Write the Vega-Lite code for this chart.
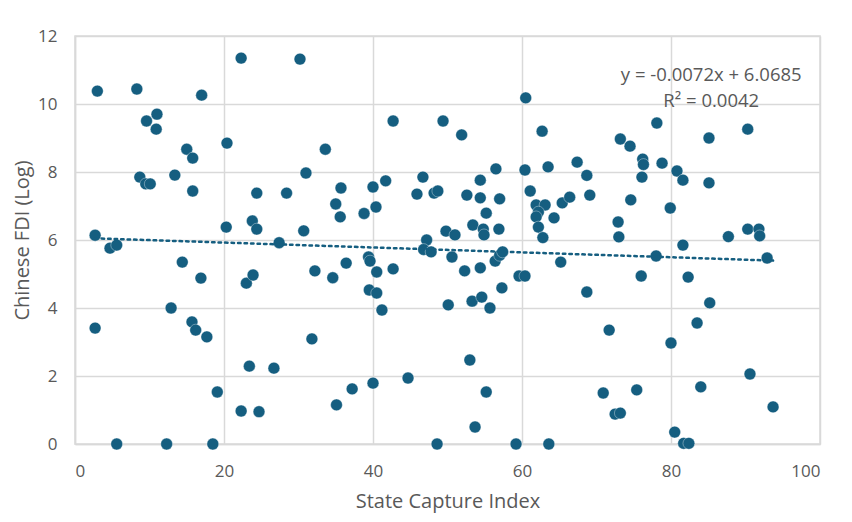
{
  "$schema": "https://vega.github.io/schema/vega-lite/v6.json",
  "autosize": "none",
  "width": 745,
  "height": 408,
  "padding": {"left": 75, "top": 36, "right": 32, "bottom": 78},
  "background": "white",
  "config": {
    "font": "Open Sans",
    "view": {"stroke": "#D9D9D9", "strokeWidth": 1.5},
    "axis": {
      "gridColor": "#D9D9D9", "gridWidth": 1.5, "domainColor": "#D9D9D9", "domainWidth": 1.5,
      "ticks": false, "labelColor": "#595959", "titleColor": "#595959",
      "labelFontSize": 17, "titleFontSize": 20, "titleFontWeight": "normal", "labelFont": "Open Sans", "titleFont": "Open Sans"
    }
  },
  "datasets": {
    "pts": [
      {"x": 3.0, "y": 10.38}, {"x": 8.3, "y": 10.44}, {"x": 9.6, "y": 9.5}, {"x": 11.0, "y": 9.7}, {"x": 10.9, "y": 9.26},
      {"x": 17.0, "y": 10.26}, {"x": 22.3, "y": 11.35}, {"x": 30.2, "y": 11.32}, {"x": 20.4, "y": 8.85}, {"x": 15.0, "y": 8.67},
      {"x": 15.8, "y": 8.41}, {"x": 33.6, "y": 8.67}, {"x": 8.7, "y": 7.85}, {"x": 9.5, "y": 7.65}, {"x": 10.1, "y": 7.65},
      {"x": 13.4, "y": 7.91}, {"x": 15.8, "y": 7.44}, {"x": 31.0, "y": 7.97}, {"x": 24.4, "y": 7.38}, {"x": 28.4, "y": 7.38},
      {"x": 35.7, "y": 7.53}, {"x": 35.0, "y": 7.06}, {"x": 35.6, "y": 6.68}, {"x": 20.3, "y": 6.38}, {"x": 23.8, "y": 6.56},
      {"x": 24.4, "y": 6.32}, {"x": 30.7, "y": 6.27}, {"x": 27.4, "y": 5.92}, {"x": 2.7, "y": 6.14}, {"x": 4.7, "y": 5.76},
      {"x": 5.6, "y": 5.85}, {"x": 14.4, "y": 5.35}, {"x": 16.9, "y": 4.88}, {"x": 23.0, "y": 4.73}, {"x": 23.9, "y": 4.97},
      {"x": 32.2, "y": 5.09}, {"x": 34.6, "y": 4.89}, {"x": 12.9, "y": 4.0}, {"x": 2.7, "y": 3.41}, {"x": 15.7, "y": 3.59},
      {"x": 16.2, "y": 3.35}, {"x": 17.7, "y": 3.15}, {"x": 31.8, "y": 3.09}, {"x": 23.4, "y": 2.29}, {"x": 26.7, "y": 2.23},
      {"x": 19.1, "y": 1.53}, {"x": 22.3, "y": 0.97}, {"x": 24.7, "y": 0.95}, {"x": 35.1, "y": 1.15}, {"x": 5.6, "y": 0},
      {"x": 12.3, "y": 0}, {"x": 18.5, "y": 0}, {"x": 42.7, "y": 9.5}, {"x": 49.4, "y": 9.5}, {"x": 51.9, "y": 9.09},
      {"x": 60.5, "y": 10.18}, {"x": 62.7, "y": 9.2}, {"x": 38.8, "y": 6.78}, {"x": 40.0, "y": 7.56}, {"x": 40.4, "y": 6.97},
      {"x": 41.7, "y": 7.74}, {"x": 45.9, "y": 7.35}, {"x": 46.7, "y": 7.85}, {"x": 48.2, "y": 7.38}, {"x": 48.7, "y": 7.44},
      {"x": 52.6, "y": 7.32}, {"x": 54.4, "y": 7.76}, {"x": 54.4, "y": 7.24}, {"x": 56.5, "y": 8.09}, {"x": 57.0, "y": 7.21},
      {"x": 55.2, "y": 6.79}, {"x": 53.4, "y": 6.44}, {"x": 54.8, "y": 6.32}, {"x": 54.9, "y": 6.15}, {"x": 56.9, "y": 6.32},
      {"x": 49.8, "y": 6.26}, {"x": 51.0, "y": 6.15}, {"x": 47.2, "y": 6.0}, {"x": 46.8, "y": 5.72}, {"x": 47.8, "y": 5.65},
      {"x": 60.4, "y": 8.06}, {"x": 63.5, "y": 8.15}, {"x": 67.4, "y": 8.29}, {"x": 68.7, "y": 7.9}, {"x": 69.1, "y": 7.32},
      {"x": 61.1, "y": 7.44}, {"x": 61.9, "y": 7.03}, {"x": 63.1, "y": 7.03}, {"x": 62.2, "y": 6.82}, {"x": 61.9, "y": 6.68},
      {"x": 62.2, "y": 6.38}, {"x": 62.8, "y": 6.07}, {"x": 64.3, "y": 6.65}, {"x": 65.4, "y": 7.09}, {"x": 66.4, "y": 7.26},
      {"x": 78.1, "y": 9.44}, {"x": 90.3, "y": 9.26}, {"x": 85.1, "y": 9.0}, {"x": 73.2, "y": 8.97}, {"x": 74.5, "y": 8.76},
      {"x": 76.2, "y": 8.38}, {"x": 76.3, "y": 8.22}, {"x": 78.8, "y": 8.26}, {"x": 80.8, "y": 8.03}, {"x": 81.6, "y": 7.76},
      {"x": 85.1, "y": 7.68}, {"x": 76.1, "y": 7.85}, {"x": 74.6, "y": 7.18}, {"x": 72.9, "y": 6.53}, {"x": 73.0, "y": 6.09},
      {"x": 79.9, "y": 6.94}, {"x": 87.7, "y": 6.1}, {"x": 90.3, "y": 6.32}, {"x": 91.8, "y": 6.32}, {"x": 91.9, "y": 6.12},
      {"x": 81.6, "y": 5.85}, {"x": 78.0, "y": 5.53}, {"x": 92.9, "y": 5.47}, {"x": 76.0, "y": 4.94}, {"x": 82.3, "y": 4.91},
      {"x": 68.7, "y": 4.47}, {"x": 85.2, "y": 4.15}, {"x": 83.5, "y": 3.56}, {"x": 71.7, "y": 3.35}, {"x": 80.0, "y": 2.97},
      {"x": 90.6, "y": 2.06}, {"x": 84.0, "y": 1.68}, {"x": 75.4, "y": 1.59}, {"x": 70.9, "y": 1.5}, {"x": 72.5, "y": 0.88},
      {"x": 73.2, "y": 0.91}, {"x": 93.7, "y": 1.09}, {"x": 80.5, "y": 0.35}, {"x": 81.7, "y": 0.02}, {"x": 82.4, "y": 0.02},
      {"x": 50.6, "y": 5.5}, {"x": 52.3, "y": 5.09}, {"x": 54.4, "y": 5.18}, {"x": 56.4, "y": 5.38}, {"x": 57.0, "y": 5.55},
      {"x": 57.4, "y": 5.65}, {"x": 59.6, "y": 4.94}, {"x": 60.4, "y": 4.94}, {"x": 57.3, "y": 4.59}, {"x": 50.1, "y": 4.09},
      {"x": 53.3, "y": 4.2}, {"x": 54.6, "y": 4.32}, {"x": 55.7, "y": 4.0}, {"x": 65.2, "y": 5.35}, {"x": 36.4, "y": 5.32},
      {"x": 39.4, "y": 5.5}, {"x": 39.6, "y": 5.38}, {"x": 40.5, "y": 5.06}, {"x": 42.7, "y": 5.15}, {"x": 39.5, "y": 4.53},
      {"x": 40.5, "y": 4.44}, {"x": 41.2, "y": 3.94}, {"x": 37.2, "y": 1.62}, {"x": 40.0, "y": 1.79}, {"x": 44.7, "y": 1.94},
      {"x": 53.0, "y": 2.47}, {"x": 55.2, "y": 1.53}, {"x": 53.7, "y": 0.5}, {"x": 48.6, "y": 0}, {"x": 59.2, "y": 0},
      {"x": 63.6, "y": 0}
    ],
    "trend": [{"x": 2.7, "y": 6.049}, {"x": 93.7, "y": 5.394}],
    "eq": [
      {"x": 85.4, "y": 10.86, "t": "y = -0.0072x + 6.0685"},
      {"x": 85.4, "y": 10.1, "t": "R² = 0.0042"}
    ]
  },
  "layer": [
    {
      "data": {"name": "pts"},
      "mark": {"type": "point", "filled": true, "size": 140, "color": "#155E80", "opacity": 1, "stroke": "#ffffff", "strokeWidth": 0.6, "strokeOpacity": 0.6},
      "encoding": {
        "x": {"field": "x", "type": "quantitative", "scale": {"domain": [0, 100]},
              "axis": {"values": [0, 20, 40, 60, 80, 100], "title": "State Capture Index", "labelPadding": 19, "titlePadding": 12}},
        "y": {"field": "y", "type": "quantitative", "scale": {"domain": [0, 12]},
              "axis": {"values": [0, 2, 4, 6, 8, 10, 12], "title": "Chinese FDI (Log)", "labelPadding": 18, "titlePadding": 5}}
      }
    },
    {
      "data": {"name": "trend"},
      "mark": {"type": "line", "color": "#155E80", "strokeWidth": 2.5, "strokeDash": [2.5, 4], "strokeCap": "round"},
      "encoding": {
        "x": {"field": "x", "type": "quantitative"},
        "y": {"field": "y", "type": "quantitative"}
      }
    },
    {
      "data": {"name": "eq"},
      "mark": {"type": "text", "fontSize": 18.5, "color": "#595959", "align": "center", "baseline": "middle", "font": "Open Sans"},
      "encoding": {
        "x": {"field": "x", "type": "quantitative"},
        "y": {"field": "y", "type": "quantitative"},
        "text": {"field": "t"}
      }
    }
  ]
}
